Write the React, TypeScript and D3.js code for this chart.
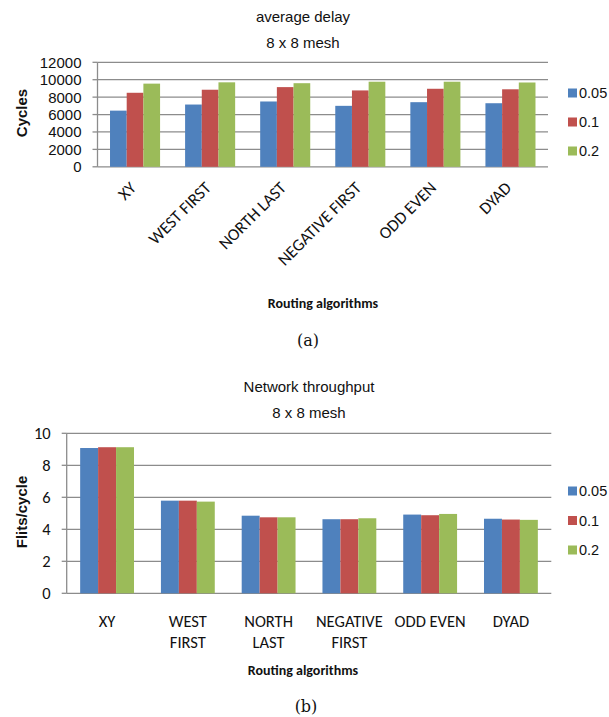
import React, { useEffect, useRef } from 'react';
import * as d3 from 'd3';

const categories = ['XY', 'WEST FIRST', 'NORTH LAST', 'NEGATIVE FIRST', 'ODD EVEN', 'DYAD'];
const wrappedCategories = [['XY'], ['WEST', 'FIRST'], ['NORTH', 'LAST'], ['NEGATIVE', 'FIRST'], ['ODD EVEN'], ['DYAD']];
const rates = ['0.05', '0.1', '0.2'];
const colors = ['#4f81bd', '#c0504d', '#9bbb59'];

// (a) average delay, cycles
const delay005 = [6450, 7150, 7500, 7000, 7420, 7300];
const delay01 = [8500, 8850, 9150, 8770, 8960, 8900];
const delay02 = [9550, 9700, 9600, 9770, 9770, 9680];
const delayTicks = [0, 2000, 4000, 6000, 8000, 10000, 12000];

// (b) network throughput, flits/cycle
const thr005 = [9.08, 5.79, 4.85, 4.63, 4.92, 4.66];
const thr01 = [9.13, 5.79, 4.75, 4.63, 4.88, 4.61];
const thr02 = [9.13, 5.73, 4.75, 4.69, 4.96, 4.59];
const thrTicks = [0, 2, 4, 6, 8, 10];

const SANS = 'Liberation Sans, Arial, sans-serif';
const CAL = 'Carlito, Lato, Open Sans, sans-serif';
const GRID = '#8c8c8c';

const App = () => {
  const svgRef = useRef(null);

  useEffect(() => {
    document.body.style.margin = '0';
    const svg = d3.select(svgRef.current);
    svg.selectAll('*').remove();

    const panel = (opts) => {
      const { series, ticks, left, right, top, bottom, titles, titleY, yLabel, yLabelX,
        tickFont, tickSize, rotated, xTitleY, caption, captionY, legendY } = opts;
      const g = svg.append('g');

      const y = d3.scaleLinear().domain([ticks[0], ticks[ticks.length - 1]]).range([bottom, top]);
      const x0 = d3.scaleBand().domain(categories).range([left, right]);
      const bw = x0.bandwidth() / 4.5;
      const x1 = d3.scaleBand().domain(rates).range([bw * 0.75, bw * 3.75]);

      // gridlines
      g.selectAll('.grid').data(ticks).enter().append('line')
        .attr('x1', left).attr('x2', right)
        .attr('y1', (d) => y(d)).attr('y2', (d) => y(d))
        .attr('stroke', GRID).attr('stroke-width', 1.3);

      // y tick marks + labels
      g.selectAll('.tk').data(ticks).enter().append('line')
        .attr('x1', left - 5).attr('x2', left)
        .attr('y1', (d) => y(d)).attr('y2', (d) => y(d))
        .attr('stroke', GRID).attr('stroke-width', 1.3);
      g.selectAll('.tl').data(ticks).enter().append('text')
        .attr('x', left - 16).attr('y', (d) => y(d))
        .attr('dy', '0.36em').attr('text-anchor', 'end')
        .attr('font-family', tickFont).attr('font-size', tickSize).attr('fill', '#111')
        .text((d) => d);

      g.append('line').attr('x1', left).attr('x2', left).attr('y1', top).attr('y2', bottom)
        .attr('stroke', GRID).attr('stroke-width', 1.3);

      // bars
      series.forEach((vals, si) => {
        g.selectAll(null).data(vals).enter().append('rect')
          .attr('x', (d, i) => x0(categories[i]) + x1(rates[si]))
          .attr('y', (d) => y(d))
          .attr('width', x1.bandwidth())
          .attr('height', (d) => bottom - y(d))
          .attr('fill', colors[si]);
      });

      // category labels
      if (rotated) {
        g.selectAll('.cl').data(categories).enter().append('text')
          .attr('transform', (d) => `translate(${x0(d) + x0.bandwidth() / 2 + 2},${bottom + 22}) rotate(-45)`)
          .attr('text-anchor', 'end')
          .attr('font-family', CAL).attr('font-size', 17).attr('fill', '#111')
          .text((d) => d);
      } else {
        wrappedCategories.forEach((lines, i) => {
          lines.forEach((ln, j) => {
            g.append('text')
              .attr('x', x0(categories[i]) + x0.bandwidth() / 2)
              .attr('y', bottom + 34 + j * 21)
              .attr('text-anchor', 'middle')
              .attr('font-family', CAL).attr('font-size', 16.5).attr('fill', '#111')
              .text(ln);
          });
        });
      }

      // titles
      titles.forEach((t, i) => {
        g.append('text').attr('x', titleY.x).attr('y', titleY.y + i * 26)
          .attr('text-anchor', 'middle').attr('font-family', SANS).attr('font-size', 15)
          .attr('fill', '#111').text(t);
      });

      g.append('text')
        .attr('transform', `translate(${yLabelX.x},${yLabelX.y}) rotate(-90)`)
        .attr('text-anchor', 'middle').attr('dy', '0.35em')
        .attr('font-family', SANS).attr('font-weight', 'bold').attr('font-size', 15)
        .attr('fill', '#111').text(yLabel);

      g.append('text').attr('x', xTitleY.x).attr('y', xTitleY.y)
        .attr('text-anchor', 'middle').attr('font-family', CAL).attr('font-weight', 'bold')
        .attr('font-size', 14).attr('fill', '#111').text('Routing algorithms');

      g.append('text').attr('x', captionY.x).attr('y', captionY.y)
        .attr('text-anchor', 'middle').attr('font-family', 'DejaVu Serif, serif')
        .attr('font-size', 16).attr('fill', '#111').text(caption);

      // legend
      rates.forEach((r, i) => {
        const ly = legendY[i];
        g.append('rect').attr('x', 568).attr('y', ly - 4.5).attr('width', 9).attr('height', 9)
          .attr('fill', colors[i]);
        g.append('text').attr('x', 579).attr('y', ly).attr('dy', '0.36em')
          .attr('font-family', SANS).attr('font-size', 14.5).attr('fill', '#111').text(r);
      });
    };

    panel({
      series: [delay005, delay01, delay02],
      ticks: delayTicks,
      left: 97.5, right: 548, top: 62.3, bottom: 166.8,
      titles: ['average delay', '8 x 8 mesh'],
      titleY: { x: 303, y: 22 },
      yLabel: 'Cycles', yLabelX: { x: 22, y: 113 },
      tickFont: SANS, tickSize: 15, rotated: true,
      xTitleY: { x: 323, y: 308 },
      caption: '(a)', captionY: { x: 308, y: 346 },
      legendY: [93, 122, 151],
    });

    panel({
      series: [thr005, thr01, thr02],
      ticks: thrTicks,
      left: 66.7, right: 551.3, top: 433.3, bottom: 593.3,
      titles: ['Network throughput', '8 x 8 mesh'],
      titleY: { x: 309, y: 392 },
      yLabel: 'Flits/cycle', yLabelX: { x: 22, y: 512 },
      tickFont: CAL, tickSize: 16.5, rotated: false,
      xTitleY: { x: 303, y: 675 },
      caption: '(b)', captionY: { x: 306, y: 712 },
      legendY: [491, 520.5, 550],
    });
  }, []);

  return <svg ref={svgRef} width={609} height={717} style={{ display: 'block', background: '#fff' }} />;
};

export default App;
